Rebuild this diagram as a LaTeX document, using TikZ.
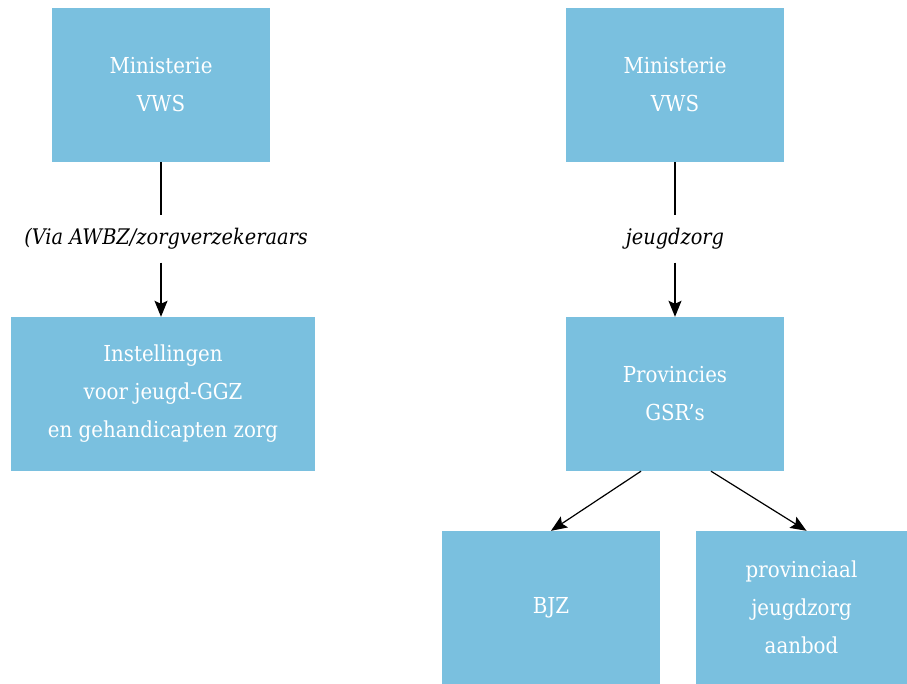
\documentclass[tikz,border=0pt]{standalone}
\usepackage{fontspec}
\setmainfont{DejaVu Serif Condensed}
\usetikzlibrary{arrows.meta}
\definecolor{vakblauw}{RGB}{122,192,223}
\begin{document}
\begin{tikzpicture}  % ------ Financiering jeugdzorg ---------------
      [x={(1pt,0pt)},y={(0pt,-1pt)},
       vak/.style={fill=vakblauw,text=white,align=center,inner sep=0pt,
                   font=\fontsize{22}{38}\selectfont},
       via/.style={font=\fontsize{21.5}{24}\selectfont\itshape,inner sep=0pt,
                   minimum height=47pt},
       pijl/.style={-{Stealth[length=16pt,width=13pt,inset=3pt]},line width=1.2pt}]
    \useasboundingbox (0,0) rectangle (907,684);

    \node[vak,minimum width=218pt,minimum height=154pt] (min1) at (161,85) {Ministerie\\VWS};
    \node[vak,minimum width=218pt,minimum height=154pt] (min2) at (675,85) {Ministerie\\VWS};
    \node[vak,minimum width=304pt,minimum height=154pt] (inst) at (163,394)
         {Instellingen\\voor jeugd-GGZ\\en gehandicapten zorg};
    \node[vak,minimum width=218pt,minimum height=154pt] (prov) at (675,394) {Provincies\\GSR’s};
    \node[vak,minimum width=218pt,minimum height=153pt] (bjz) at (551,607.5) {BJZ};
    \node[vak,minimum width=211pt,minimum height=153pt] (aanb) at (801.5,607.5)
         {provinciaal\\jeugdzorg\\aanbod};

    \node[via] (via1) at (166,239) {(Via AWBZ/zorgverzekeraars};
    \node[via] (via2) at (675,239) {jeugdzorg};

    \draw [line width=1.2pt] (min1) -- (min1 |- via1.north) ;
    \draw [pijl] (min1 |- via1.south) -- (min1 |- inst.north) ;
    \draw [line width=1.2pt] (min2) -- (via2) ;
    \draw [pijl] (via2) -- (prov) ;
    \draw [pijl] ([xshift=-34pt]prov.south) -- (bjz.north) ;
    \draw [pijl] ([xshift=36pt]prov.south) -- ([xshift=5pt]aanb.north) ;
\end{tikzpicture}
\end{document}
